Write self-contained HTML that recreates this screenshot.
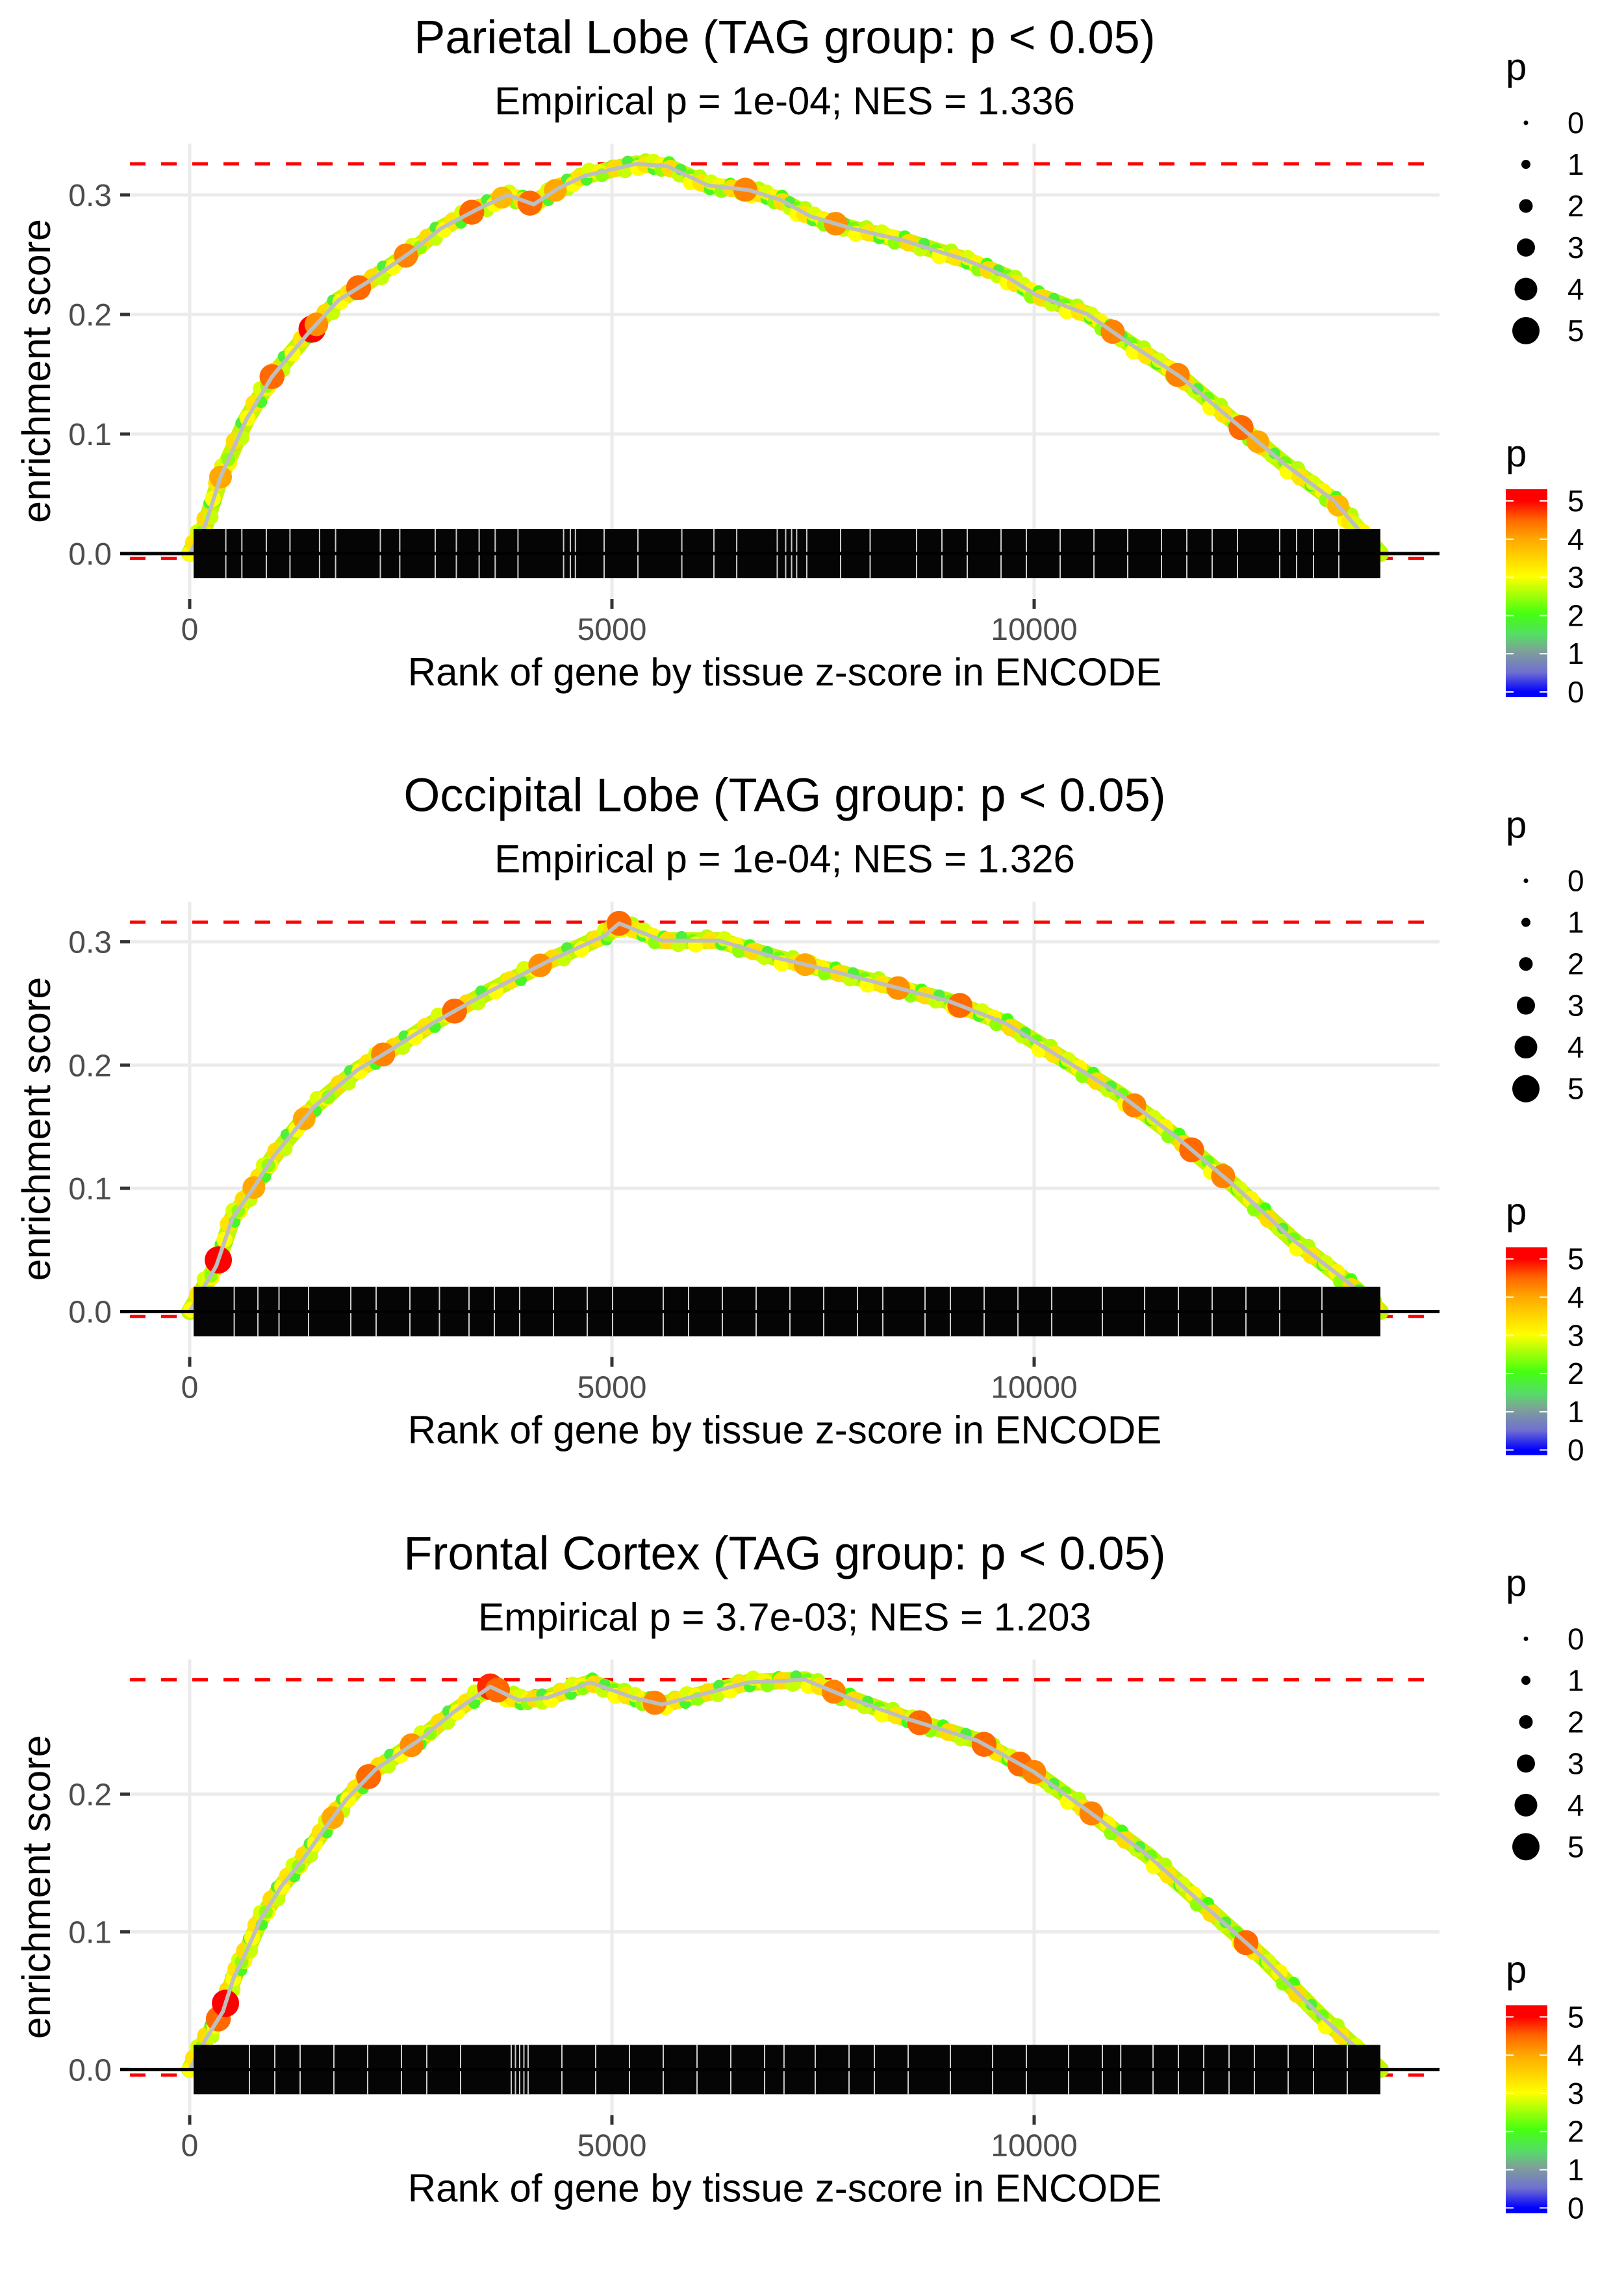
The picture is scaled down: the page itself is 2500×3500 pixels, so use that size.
<!DOCTYPE html>
<html><head><meta charset="utf-8"><title>GSEA enrichment plots</title>
<style>
html,body{margin:0;padding:0;background:#fff;}
svg{display:block;font-family:"Liberation Sans",Arial,sans-serif;}
</style></head>
<body>
<svg id="chart" xmlns="http://www.w3.org/2000/svg" width="2500" height="3500" viewBox="0 0 2500 3500">
<defs>
<linearGradient id="pgrad" x1="0" y1="0" x2="0" y2="1">
<stop offset="0" stop-color="#ff0000"/>
<stop offset="0.056" stop-color="#ff0000"/>
<stop offset="0.15" stop-color="#ff6a00"/>
<stop offset="0.24" stop-color="#ffa800"/>
<stop offset="0.42" stop-color="#ffff00"/>
<stop offset="0.6" stop-color="#44ff11"/>
<stop offset="0.7" stop-color="#55dd66"/>
<stop offset="0.78" stop-color="#7f9f99"/>
<stop offset="0.88" stop-color="#7070d0"/>
<stop offset="0.975" stop-color="#0000ff"/>
<stop offset="1" stop-color="#0000ff"/>
</linearGradient>
</defs>
</svg>
<script>
// ---------- data ----------
const titles = ["Parietal Lobe (TAG group: p < 0.05)","Occipital Lobe (TAG group: p < 0.05)","Frontal Cortex (TAG group: p < 0.05)"];
const subtitles = ["Empirical p = 1e-04; NES = 1.336","Empirical p = 1e-04; NES = 1.326","Empirical p = 3.7e-03; NES = 1.203"];
const xTicks = [0,5000,10000];
const yTicks1 = [0,0.1,0.2,0.3];
const yTicks2 = [0,0.1,0.2,0.3];
const yTicks3 = [0,0.1,0.2];
const esMax = [0.326,0.316,0.283];
const esMin = [-0.004,-0.004,-0.004];
const nGenes = 14100;

const p1Ranks = [0,185,366,670,975,1400,1763,2128,2615,2977,3406,3769,4073,4377,4677,5285,5654,6138,6623,6992,7354,7838,8446,9177,9662,10031,10638,11123,11730,12338,12946,13554,13792,14100];
const p1ES    = [0,0.024,0.064,0.112,0.148,0.184,0.212,0.228,0.252,0.272,0.288,0.300,0.292,0.306,0.316,0.326,0.324,0.308,0.304,0.296,0.282,0.272,0.262,0.246,0.232,0.216,0.200,0.176,0.148,0.112,0.076,0.044,0.024,0];
const p1HitRanks = [366,975,1450,1500,2000,2560,3340,3700,4030,4330,6580,7650,10930,11700,12450,12650,13600];
const p1HitP     = [4.0,4.5,5.0,4.2,4.5,4.3,4.5,3.8,4.5,4.0,4.3,4.2,4.3,4.3,4.5,4.0,3.8];
const p1Gaps = [420,610,900,1180,1530,1720,2250,2480,2900,3150,3420,3610,3880,4420,4500,4560,4900,5300,5820,6200,6470,6950,7050,7120,7180,7300,7700,8050,8600,8900,9200,9600,9900,10300,10700,11100,11500,11800,12100,12400,12900,13100,13300,13600];

const p2Ranks = [0,315,508,754,985,1470,1985,2373,2881,3559,4237,4915,5085,5593,6271,6949,7627,8305,8983,9661,10339,11017,11695,12373,13051,13729,14100];
const p2ES    = [0,0.037,0.076,0.100,0.125,0.166,0.196,0.212,0.234,0.260,0.284,0.305,0.315,0.301,0.301,0.287,0.276,0.264,0.252,0.234,0.205,0.176,0.141,0.102,0.059,0.023,0];
const p2HitRanks = [339,760,1356,2290,3136,4150,5085,7288,8390,9120,11186,11865,12237];
const p2HitP     = [5.0,4.0,4.0,4.3,4.5,4.2,4.5,4.0,4.2,4.5,4.3,4.5,4.3];
const p2Gaps = [520,800,1050,1400,1900,2200,2600,2950,3300,3600,3900,4300,4700,5000,5600,5900,6300,6700,7100,7500,7900,8200,8700,9000,9400,9800,10200,10800,11300,11700,12100,12500,12900,13400];

const p3Ranks = [0,190,392,523,654,831,1085,1346,1600,1854,2203,2712,3136,3559,3898,4237,4746,5254,5593,6102,6610,7288,7797,8475,9322,10000,10678,11356,12034,12712,13390,14100];
const p3ES    = [0,0.022,0.042,0.067,0.083,0.108,0.133,0.153,0.175,0.196,0.218,0.239,0.260,0.278,0.268,0.270,0.281,0.270,0.265,0.273,0.281,0.283,0.270,0.255,0.239,0.216,0.186,0.155,0.118,0.081,0.039,0];
const p3HitRanks = [339,424,1695,2119,2627,3559,3644,5508,7627,8644,9407,9830,10000,10678,12508];
const p3HitP     = [4.5,5.0,4.0,4.5,4.2,4.8,4.5,4.3,4.3,4.5,4.5,4.5,4.3,4.3,4.5];
const p3Gaps = [700,1000,1300,1700,2100,2500,2800,3200,3800,3850,3900,3950,4000,4400,4800,5200,5600,6000,6400,6800,7030,7400,7800,8100,8500,9000,9500,9900,10400,10800,11017,11400,11700,12000,12300,12600,13000,13300,13700];

const bandP = [2.2,3.0,2.6,3.3,1.9,2.8,3.1,2.4,2.0,3.4,2.7,1.8];
const legendSizes = [0,1,2,3,4,5];
const colorTicks = [0,1,2,3,4,5];

// ---------- layout ----------
const panelH = 3500/3;
const xPx0 = 292, xPxPerRank = 0.13;
const panelLeft = 200, panelRight = 2216;
const zeroY = 852;
const pxPerUnit = [1840,1897,2120];

const NS = "http://www.w3.org/2000/svg";
const svg = document.getElementById("chart");
function mk(tag, attrs, parent){
  const e = document.createElementNS(NS, tag);
  for (const k in attrs) e.setAttribute(k, attrs[k]);
  (parent||svg).appendChild(e);
  return e;
}
function pColor(p){
  const st=[[0,[0,0,255]],[0.5,[112,112,208]],[1,[127,159,153]],[1.6,[85,221,102]],[2,[68,255,17]],[3,[255,255,0]],[4,[255,168,0]],[4.5,[255,106,0]],[5,[255,0,0]]];
  p=Math.max(0,Math.min(5,p));
  for(let i=1;i<st.length;i++){ if(p<=st[i][0]){ const a=st[i-1],b=st[i],t=(p-a[0])/(b[0]-a[0]);
    const c=a[1].map((v,j)=>Math.round(v+(b[1][j]-v)*t)); return `rgb(${c[0]},${c[1]},${c[2]})`; } }
  return "rgb(255,0,0)";
}
function interpES(ranks, es, r){
  for(let i=1;i<ranks.length;i++){ if(r<=ranks[i]){ const t=(r-ranks[i-1])/(ranks[i]-ranks[i-1]); return es[i-1]+(es[i]-es[i-1])*t; } }
  return es[es.length-1];
}

const panelData = [
  {ranks:p1Ranks, es:p1ES, hitR:p1HitRanks, hitP:p1HitP, gaps:p1Gaps, yt:yTicks1},
  {ranks:p2Ranks, es:p2ES, hitR:p2HitRanks, hitP:p2HitP, gaps:p2Gaps, yt:yTicks2},
  {ranks:p3Ranks, es:p3ES, hitR:p3HitRanks, hitP:p3HitP, gaps:p3Gaps, yt:yTicks3}
];

panelData.forEach((d,k)=>{
  const oy = k*panelH;
  const xs = r => xPx0 + r*xPxPerRank;
  const ys = v => oy + zeroY - v*pxPerUnit[k];
  const g = mk("g",{});
  
  

  const t = mk("text",{x:1208,y:oy+82,"text-anchor":"middle","font-size":72,fill:"#000"},g);
  t.textContent = titles[k];
  
  
  const st = mk("text",{x:1208,y:oy+176,"text-anchor":"middle","font-size":60,fill:"#000"},g);
  st.textContent = subtitles[k];
  
  

  const panelTop = oy+221, panelBot = oy+922;
  d.yt.forEach(v=>{
    const gl = mk("line",{x1:panelLeft,x2:panelRight,y1:ys(v),y2:ys(v),stroke:"#ebebeb","stroke-width":5},g);
    
    
    const tm = mk("line",{x1:185,x2:200,y1:ys(v),y2:ys(v),stroke:"#333","stroke-width":5},g);
    
    
    const tl = mk("text",{x:172,y:ys(v)+17,"text-anchor":"end","font-size":48,fill:"#4d4d4d"},g);
    tl.textContent = v.toFixed(1);
    
    
  });
  xTicks.forEach(v=>{
    const gl = mk("line",{x1:xs(v),x2:xs(v),y1:panelTop,y2:panelBot,stroke:"#ebebeb","stroke-width":5},g);
    
    
    const tm = mk("line",{x1:xs(v),x2:xs(v),y1:panelBot,y2:panelBot+15,stroke:"#333","stroke-width":5},g);
    
    
    const tl = mk("text",{x:xs(v),y:oy+985,"text-anchor":"middle","font-size":48,fill:"#4d4d4d"},g);
    tl.textContent = String(v);
    
    
  });

  const dTop = mk("line",{x1:panelLeft,x2:panelRight,y1:ys(esMax[k]),y2:ys(esMax[k]),stroke:"#ff0000","stroke-width":5,"stroke-dasharray":"24 24"},g);
  
  
  const dBot = mk("line",{x1:panelLeft,x2:panelRight,y1:ys(esMin[k]),y2:ys(esMin[k]),stroke:"#ff0000","stroke-width":5,"stroke-dasharray":"24 24"},g);
  
  

  const pts = d.ranks.map((r,i)=>xs(r).toFixed(1)+","+ys(d.es[i]).toFixed(1)).join(" ");
  const band = mk("polyline",{points:pts,fill:"none",stroke:"#c4f500","stroke-width":26,"stroke-linejoin":"round","stroke-linecap":"round"},g);
  
  
  let ci=0;
  for(let i=1;i<d.ranks.length;i++){
    for(let s=0;s<8;s++){
      const r = d.ranks[i-1] + (d.ranks[i]-d.ranks[i-1])*s/8;
      const p = bandP[ci%bandP.length]; ci++;
      const c = mk("circle",{cx:xs(r)+((ci%2)?3:-3),cy:ys(interpES(d.ranks,d.es,r))+((ci%3)-1)*6,r:3.5+3.5*p*0.85,fill:pColor(p)},g);
      
      
    }
  }
  d.hitR.forEach((r,i)=>{
    const c = mk("circle",{cx:xs(r),cy:ys(interpES(d.ranks,d.es,r)),r:3.5+3.5*d.hitP[i],fill:pColor(d.hitP[i])},g);
    
    
  });
  const gl2 = mk("polyline",{points:pts,fill:"none",stroke:"#bebebe","stroke-width":6,"stroke-linejoin":"round"},g);
  
  

  const rug = mk("rect",{x:xs(0)+6,y:oy+zeroY-38,width:xs(nGenes)-xs(0)-6,height:76,fill:"#050505"},g);
  
  
  d.gaps.forEach(r=>{
    const gp = mk("rect",{x:xs(r),y:oy+zeroY-38,width:2,height:76,fill:"#cccccc"},g);
    
    
  });
  const zl = mk("line",{x1:185,x2:panelRight,y1:oy+zeroY,y2:oy+zeroY,stroke:"#000","stroke-width":5},g);
  
  

  const xt = mk("text",{x:1208,y:oy+1055,"text-anchor":"middle","font-size":60,fill:"#000"},g);
  xt.textContent = "Rank of gene by tissue z-score in ENCODE";
  
  
  const yt = mk("text",{x:0,y:0,"text-anchor":"middle","font-size":61,fill:"#000",transform:`translate(77,${oy+571}) rotate(-90)`},g);
  yt.textContent = "enrichment score";
  
  

  const sl = mk("text",{x:2318,y:oy+123,"font-size":58,fill:"#000"},g);
  sl.textContent = "p";
  
  
  legendSizes.forEach((v,i)=>{
    const cy = oy+189+64*i;
    const c = mk("circle",{cx:2349,cy:cy,r:3.5+3.5*v,fill:"#000"},g);
    
    
    const l = mk("text",{x:2413,y:cy+16,"font-size":46,fill:"#000"},g);
    l.textContent = String(v);
    
    
  });
  const cl = mk("text",{x:2318,y:oy+718,"font-size":58,fill:"#000"},g);
  cl.textContent = "p";
  
  
  const bar = mk("rect",{x:2318,y:oy+753,width:64,height:320,fill:"url(#pgrad)"},g);
  
  
  colorTicks.forEach(v=>{
    const cy = oy+1065-58.8*v;
    const a = mk("line",{x1:2318,x2:2330,y1:cy,y2:cy,stroke:"#fff","stroke-width":2},g);
    
    
    const b = mk("line",{x1:2370,x2:2382,y1:cy,y2:cy,stroke:"#fff","stroke-width":2},g);
    
    
    const l = mk("text",{x:2413,y:cy+16,"font-size":46,fill:"#000"},g);
    l.textContent = String(v);
    
    
  });
});
</script>
</body></html>
